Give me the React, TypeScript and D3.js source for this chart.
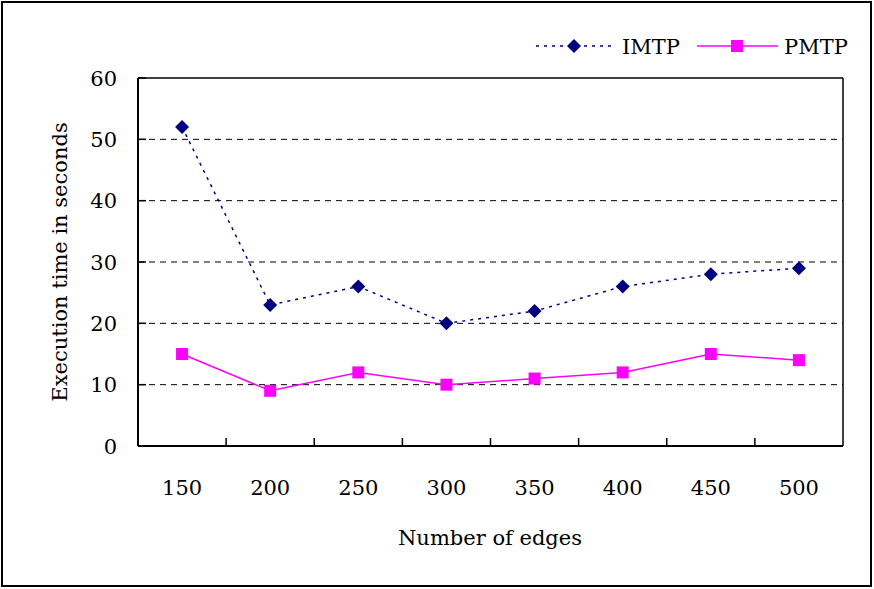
import React from "react";
import * as d3 from "d3";

const categories = ["150", "200", "250", "300", "350", "400", "450", "500"];
const imtp = [52, 23, 26, 20, 22, 26, 28, 29];
const pmtp = [15, 9, 12, 10, 11, 12, 15, 14];
const yTicks = [0, 10, 20, 30, 40, 50, 60];

const W = 874, H = 589;
const left = 138, right = 843, top = 78, bottom = 446;
const FONT = "'DejaVu Serif', serif";
const FS = 21;

export default function App() {
  const x = d3.scaleBand<string>().domain(categories).range([left, right]);
  const y = d3.scaleLinear().domain([0, 60]).range([bottom, top]);
  const cx = (c: string) => (x(c) as number) + x.bandwidth() / 2;
  const line = d3.line<number>().x((_, i) => cx(categories[i])).y((d) => y(d));
  const diamond = (px: number, py: number, r: number) =>
    `M${px},${py - r}L${px + r},${py}L${px},${py + r}L${px - r},${py}Z`;

  return (
    <svg width={W} height={H} style={{ position: "absolute", left: 0, top: 0 }}>
      <rect x={0} y={0} width={W} height={H} fill="#fff" />
      <rect x={2} y={2} width={869} height={584} fill="none" stroke="#000" strokeWidth={2} />
      {/* grid */}
      {yTicks.filter((t) => t > 0 && t < 60).map((t) => (
        <line key={t} x1={left} x2={right} y1={y(t)} y2={y(t)} stroke="#000" strokeWidth={1} strokeDasharray="6,5" />
      ))}
      {/* plot frame */}
      <line x1={left} x2={right} y1={top} y2={top} stroke="#000" strokeWidth={1.5} />
      <line x1={right} x2={right} y1={top} y2={bottom} stroke="#000" strokeWidth={1.5} />
      <line x1={left} x2={right} y1={bottom} y2={bottom} stroke="#000" strokeWidth={2} />
      <line x1={left} x2={left} y1={top} y2={bottom} stroke="#000" strokeWidth={2} />
      {/* y ticks */}
      {yTicks.map((t) => (
        <g key={t}>
          <line x1={left} x2={left + 8} y1={y(t)} y2={y(t)} stroke="#000" strokeWidth={1.5} />
          <text x={117} y={y(t)} dy="0.36em" textAnchor="end" fontFamily={FONT} fontSize={FS} fill="#000">{t}</text>
        </g>
      ))}
      {/* x ticks */}
      {categories.map((c, i) => (
        <g key={c}>
          {i > 0 && (
            <line x1={x(c)} x2={x(c)} y1={bottom} y2={bottom - 8} stroke="#000" strokeWidth={1.5} />
          )}
          <text x={cx(c)} y={495} textAnchor="middle" fontFamily={FONT} fontSize={FS} fill="#000">{c}</text>
        </g>
      ))}
      {/* series */}
      <path d={line(imtp) || ""} fill="none" stroke="#000080" strokeWidth={1.5} strokeDasharray="3,5" />
      {imtp.map((v, i) => (
        <path key={i} d={diamond(cx(categories[i]), y(v), 7)} fill="#000080" />
      ))}
      <path d={line(pmtp) || ""} fill="none" stroke="#FF00FF" strokeWidth={1.5} />
      {pmtp.map((v, i) => (
        <rect key={i} x={cx(categories[i]) - 6} y={y(v) - 6} width={12} height={12} fill="#FF00FF" />
      ))}
      {/* axis titles */}
      <text x={490} y={545} textAnchor="middle" fontFamily={FONT} fontSize={FS} fill="#000">Number of edges</text>
      <text transform={`translate(67,262) rotate(-90)`} textAnchor="middle" fontFamily={FONT} fontSize={FS} fill="#000">Execution time in seconds</text>
      {/* legend */}
      <line x1={536} x2={612} y1={46} y2={46} stroke="#000080" strokeWidth={1.5} strokeDasharray="3,5" />
      <path d={diamond(574, 46, 7)} fill="#000080" />
      <text x={622} y={46} dy="0.36em" fontFamily={FONT} fontSize={FS} fill="#000">IMTP</text>
      <line x1={697} x2={778} y1={46} y2={46} stroke="#FF00FF" strokeWidth={1.5} />
      <rect x={731} y={40} width={12} height={12} fill="#FF00FF" />
      <text x={784} y={46} dy="0.36em" fontFamily={FONT} fontSize={FS} fill="#000">PMTP</text>
    </svg>
  );
}
